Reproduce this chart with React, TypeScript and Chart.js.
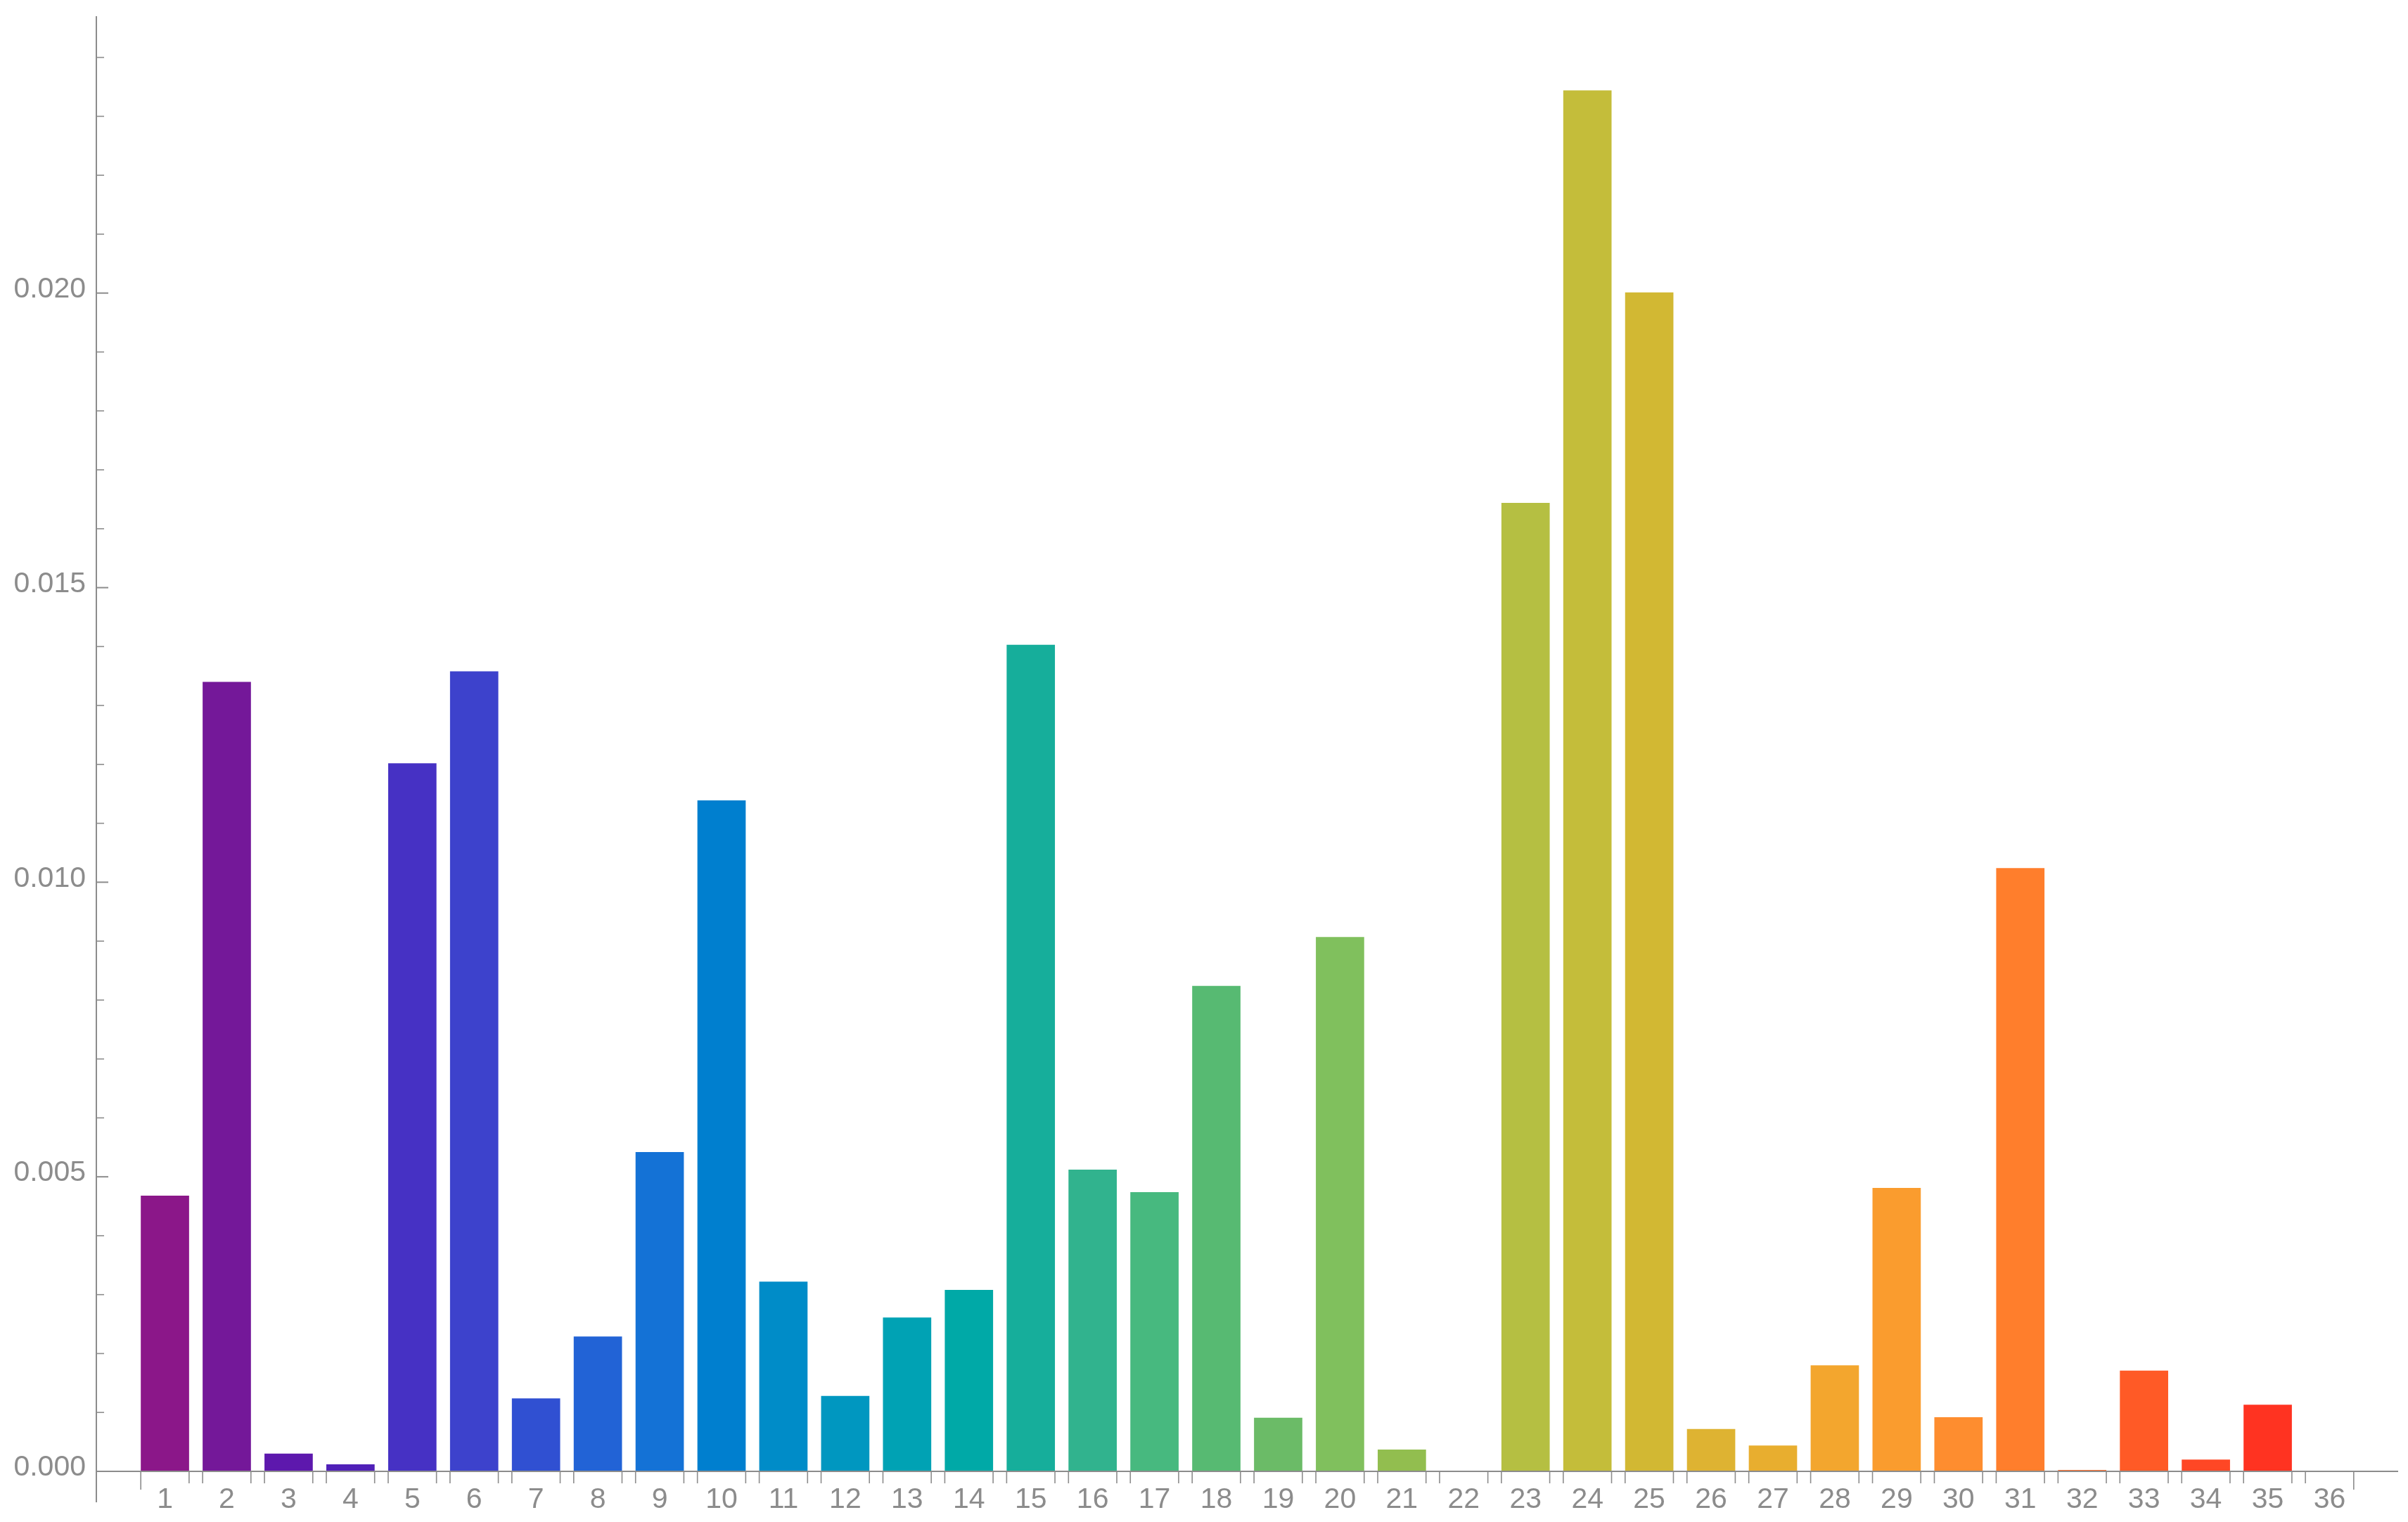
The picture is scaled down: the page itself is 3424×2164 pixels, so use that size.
import React, { useEffect, useRef } from "react";
import { Chart, registerables } from "chart.js";

Chart.register(...registerables);

// ---- data ----
const categories = [
  1, 2, 3, 4, 5, 6, 7, 8, 9, 10, 11, 12, 13, 14, 15, 16, 17, 18,
  19, 20, 21, 22, 23, 24, 25, 26, 27, 28, 29, 30, 31, 32, 33, 34, 35, 36,
];

const values = [
  0.00468, 0.0134, 0.0003, 0.00012, 0.01202, 0.01358, 0.00124, 0.00229,
  0.00542, 0.01139, 0.00322, 0.00128, 0.00261, 0.00308, 0.01403, 0.00512,
  0.00474, 0.00824, 0.00091, 0.00907, 0.00037, 0.0, 0.01644, 0.02344,
  0.02001, 0.00072, 0.00044, 0.0018, 0.00481, 0.00092, 0.01024, 0.000025,
  0.00171, 0.0002, 0.00113, 0.0,
];

const barColors = [
  "#8b1789", "#741899", "#5d18ad", "#5020b8", "#4631c4", "#3d42cc",
  "#3050d2", "#2263d6", "#1472d6", "#007fcf", "#008cc8", "#0097c0",
  "#00a2b4", "#00a9a7", "#16ae9b", "#31b38e", "#47b97f", "#57ba72",
  "#6bbb67", "#80c05d", "#92be4f", "#a3bf47", "#b5bf42", "#c4bd3a",
  "#d2b833", "#deb332", "#e8ae2f", "#f3a62e", "#fa9c2e", "#fe8d2f",
  "#ff7e2c", "#ff6b28", "#ff5a26", "#ff4725", "#ff3321", "#ff2a20",
];

const yMajorTicks = [0, 0.005, 0.01, 0.015, 0.02];
const yMinorTicks = [
  0.001, 0.002, 0.003, 0.004, 0.006, 0.007, 0.008, 0.009, 0.011, 0.012,
  0.013, 0.014, 0.016, 0.017, 0.018, 0.019, 0.021, 0.022, 0.023, 0.024,
];

const Y_MAX = 0.0247;
const X_MIN = -0.109;
const X_MAX = 37.109;

const AXIS_COLOR = "#8c8c8c";
const FONT_FAMILY = "'Liberation Sans', Arial, Helvetica, sans-serif";

const axesPlugin = {
  id: "mmaAxes",
  afterDatasetsDraw(chart: any) {
    const { ctx, chartArea } = chart;
    const yScale = chart.scales.y;
    const y0 = yScale.getPixelForValue(0);
    const left = chartArea.left;
    ctx.save();
    ctx.strokeStyle = AXIS_COLOR;
    ctx.lineCap = "butt";

    const line = (x1: number, y1: number, x2: number, y2: number, w: number) => {
      ctx.lineWidth = w;
      ctx.beginPath();
      ctx.moveTo(x1, y1);
      ctx.lineTo(x2, y2);
      ctx.stroke();
    };

    // axis lines
    line(chartArea.left, y0, chartArea.right, y0, 2);
    line(left, chartArea.top, left, y0 + 44, 2);

    // y ticks (inward)
    yMajorTicks.forEach((v) => {
      const p = yScale.getPixelForValue(v);
      line(left, p, left + 17, p, 2);
    });
    yMinorTicks.forEach((v) => {
      const p = yScale.getPixelForValue(v);
      line(left, p, left + 11, p, 1.6);
    });

    // x ticks at bar edges
    const meta = chart.getDatasetMeta(0);
    const n = meta.data.length;
    meta.data.forEach((el: any, i: number) => {
      const hw = el.width / 2;
      const lx = el.x - hw;
      const rx = el.x + hw;
      line(lx, y0, lx, y0 + (i === 0 ? 26 : 17), 1.6);
      line(rx, y0, rx, y0 + (i === n - 1 ? 26 : 17), 1.6);
    });

    ctx.restore();
  },
};

export default function App() {
  const canvasRef = useRef<HTMLCanvasElement | null>(null);

  useEffect(() => {
    const canvas = canvasRef.current;
    if (!canvas) return;
    const chart = new Chart(canvas, {
      type: "bar",
      data: {
        datasets: [
          {
            data: categories.map((c, i) => ({ x: c, y: values[i] })),
            backgroundColor: barColors,
            borderWidth: 0,
            categoryPercentage: 1,
            barPercentage: 0.781,
          },
        ],
      },
      options: {
        animation: false,
        responsive: false,
        devicePixelRatio: 1,
        layout: { padding: { top: 23, right: 14, left: 0, bottom: 0 } },
        plugins: {
          legend: { display: false },
          tooltip: { enabled: false },
          title: { display: false },
        },
        scales: {
          x: {
            type: "linear",
            min: X_MIN,
            max: X_MAX,
            offset: false,
            grid: { display: false, drawTicks: false, offset: false },
            border: { display: false },
            afterBuildTicks: (scale: any) => {
              scale.ticks = categories.map((v) => ({ value: v }));
            },
            afterFit: (scale: any) => {
              scale.height = 72;
              scale.paddingLeft = 0;
              scale.paddingRight = 0;
              scale.paddingTop = 0;
              scale.paddingBottom = 0;
            },
            ticks: {
              autoSkip: false,
              maxRotation: 0,
              minRotation: 0,
              padding: 16,
              color: AXIS_COLOR,
              font: { family: FONT_FAMILY, size: 41 },
              callback: (v: any) => String(v),
            },
          },
          y: {
            type: "linear",
            min: 0,
            max: Y_MAX,
            grid: { display: false, drawTicks: false },
            border: { display: false },
            afterBuildTicks: (scale: any) => {
              scale.ticks = yMajorTicks.map((v) => ({ value: v }));
            },
            afterFit: (scale: any) => {
              scale.width = 137;
              scale.paddingTop = 0;
              scale.paddingBottom = 0;
              scale.paddingLeft = 0;
              scale.paddingRight = 0;
            },
            ticks: {
              padding: 15,
              labelOffset: -5,
              color: AXIS_COLOR,
              font: { family: FONT_FAMILY, size: 41 },
              callback: (v: any) => Number(v).toFixed(3),
            },
          },
        },
      },
      plugins: [axesPlugin],
    });
    return () => {
      chart.destroy();
    };
  }, []);

  return (
    <div
      style={{
        position: "fixed",
        left: 0,
        top: 0,
        width: "3424px",
        height: "2164px",
        background: "#ffffff",
      }}
    >
      <canvas
        ref={canvasRef}
        width={3424}
        height={2164}
        style={{ display: "block", width: "3424px", height: "2164px" }}
      />
    </div>
  );
}
